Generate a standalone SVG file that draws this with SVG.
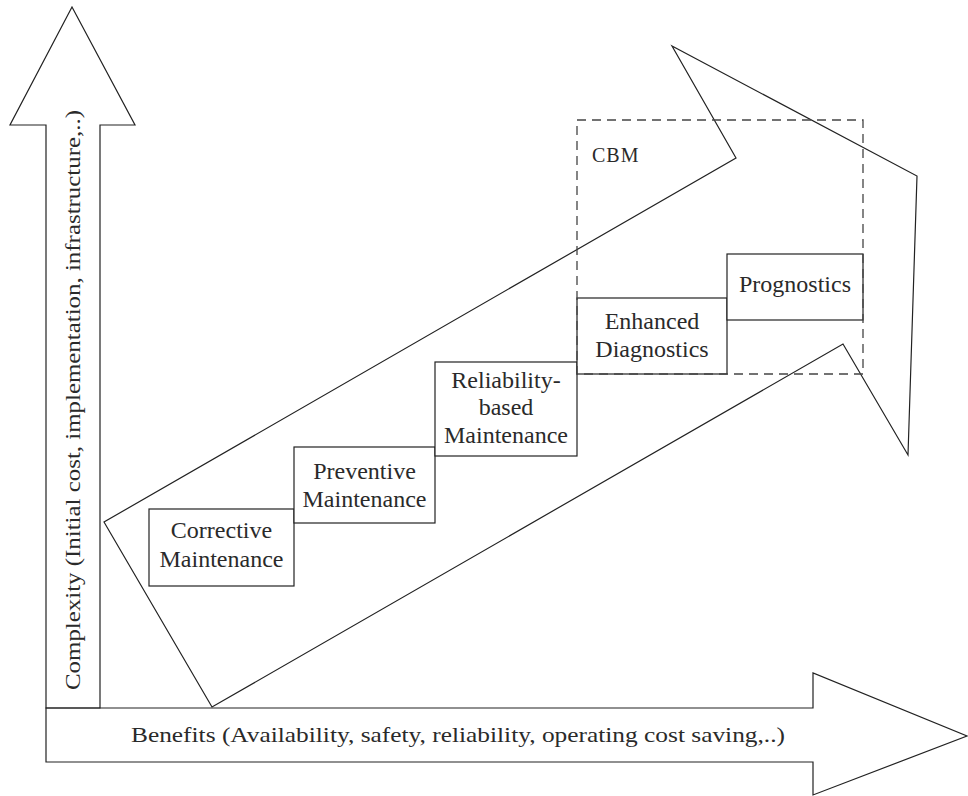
<svg xmlns="http://www.w3.org/2000/svg" width="968" height="796" viewBox="0 0 968 796">
  <style>
    .outline { fill: none; stroke: #222; stroke-width: 1.2; stroke-linejoin: miter; }
    .box { fill: #fff; stroke: #222; stroke-width: 1.2; }
    .dash { fill: none; stroke: #444; stroke-width: 1.3; stroke-dasharray: 9 6; }
    .lbl { font-family: "Liberation Serif", "Times New Roman", serif; font-size: 24px; fill: #2a2a2a; text-anchor: middle; }
    .axis { font-family: "Liberation Serif", "Times New Roman", serif; font-size: 22px; fill: #2a2a2a; }
  </style>

  <!-- axes drawn as block arrows -->
  <g id="axis-complexity">
    <polygon class="outline" points="46,708 46,125 10,125 72,7 135,125 100,125 100,708"/>
    <text class="axis" transform="translate(80,690) rotate(-90)" textLength="580" lengthAdjust="spacingAndGlyphs">Complexity (Initial cost, implementation, infrastructure,..)</text>
  </g>
  <g id="axis-benefits">
    <polygon class="outline" points="46,708 813,708 813,673 967,736 813,795 813,762 46,762"/>
    <text class="axis" x="131" y="742" textLength="654" lengthAdjust="spacingAndGlyphs">Benefits (Availability, safety, reliability, operating cost saving,..)</text>
  </g>

  <!-- tilted progression arrow -->
  <g id="connectors">
    <polygon class="outline" points="104,522 212,707 843,344 908,455 917,176 672,46 736,158"/>
  </g>

  <!-- maintenance strategy steps -->
  <g id="corrective">
    <rect class="box" x="149" y="509" width="145" height="77"/>
    <text class="lbl" x="221.5" y="538">Corrective</text>
    <text class="lbl" x="221.5" y="567">Maintenance</text>
  </g>
  <g id="preventive">
    <rect class="box" x="294" y="447" width="141" height="76"/>
    <text class="lbl" x="364.5" y="479">Preventive</text>
    <text class="lbl" x="364.5" y="507">Maintenance</text>
  </g>
  <g id="reliability">
    <rect class="box" x="435" y="362" width="142" height="94"/>
    <text class="lbl" x="506" y="388">Reliability-</text>
    <text class="lbl" x="506" y="415">based</text>
    <text class="lbl" x="506" y="443">Maintenance</text>
  </g>
  <g id="enhanced">
    <rect class="box" x="577" y="298" width="150" height="76"/>
    <text class="lbl" x="652" y="329">Enhanced</text>
    <text class="lbl" x="652" y="357">Diagnostics</text>
  </g>
  <g id="prognostics">
    <rect class="box" x="727" y="254" width="136" height="66"/>
    <text class="lbl" x="795" y="292">Prognostics</text>
  </g>

  <!-- condition-based maintenance region -->
  <g id="cbm">
    <rect class="dash" x="577" y="120" width="286" height="254"/>
    <text class="axis" x="592" y="162" style="font-size:20px;letter-spacing:1px">CBM</text>
  </g>
</svg>
